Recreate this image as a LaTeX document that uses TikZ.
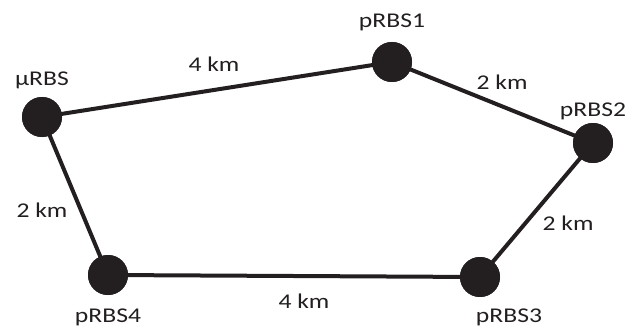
\documentclass[tikz,border=0pt]{standalone}
\usepackage{fontspec}
\setmainfont[FakeStretch=1.22]{Carlito}
\definecolor{ink}{HTML}{231F20}
\begin{document}
\begin{tikzpicture}[x=1pt,y=-1pt,
  station/.style={circle,fill=ink,draw=none,minimum size=40pt,inner sep=0pt},
  link/.style={line width=4pt,draw=ink},
  lbl/.style={anchor=base,inner sep=0pt,text=ink,font=\fontsize{21}{24}\selectfont}]
\useasboundingbox (0,0) rectangle (644,334);
\node[station] (u) at (42,117) {};
\node[station] (p1) at (392,62) {};
\node[station] (p2) at (593,143) {};
\node[station] (p3) at (480,277) {};
\node[station] (p4) at (108,275) {};
\draw[link] (u.center) -- (p1.center) -- (p2.center) -- (p3.center) -- (p4.center) -- (u.center);
\node[station] at (u) {};
\node[station] at (p1) {};
\node[station] at (p2) {};
\node[station] at (p3) {};
\node[station] at (p4) {};
\node[lbl] (lu) at (42,85) {µRBS};
\node[lbl] (l1) at (392,28) {pRBS1};
\node[lbl] (l2) at (593,117) {pRBS2};
\node[lbl] (l3) at (509,322) {pRBS3};
\node[lbl] (l4) at (108,322) {pRBS4};
\node[lbl] (e1) at (214,72) {4 km};
\node[lbl] (e2) at (502,90) {2 km};
\node[lbl] (e3) at (568,230) {2 km};
\node[lbl] (e4) at (304,308) {4 km};
\node[lbl] (e5) at (42,217) {2 km};
\end{tikzpicture}
\end{document}
